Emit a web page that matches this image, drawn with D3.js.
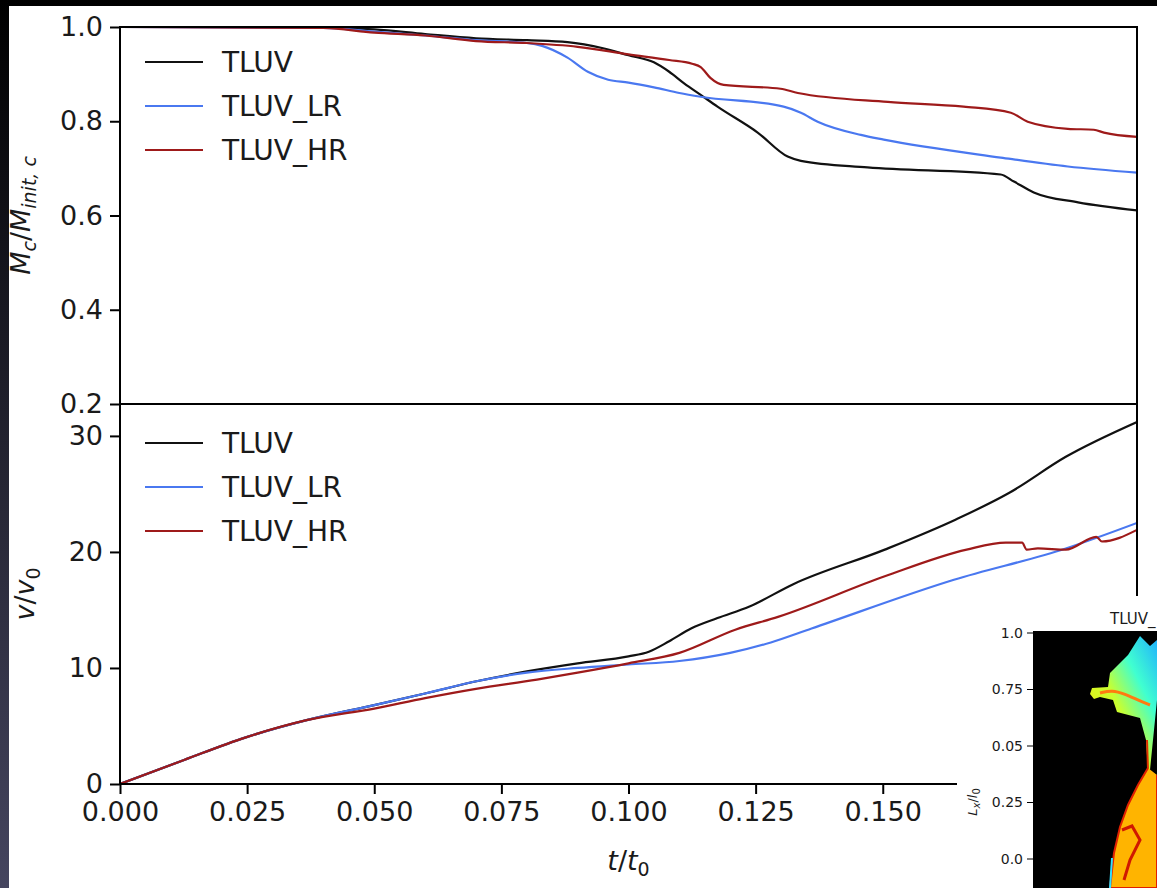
<!DOCTYPE html>
<html>
<head>
<meta charset="utf-8">
<script src="https://cdn.jsdelivr.net/npm/d3@7"></script>
<style>
  body { margin: 0; background: #000; }
  svg { display: block; }
  text { font-family: "DejaVu Sans", sans-serif; fill: #1a1a1a; }
</style>
</head>
<body>
<div id="chart"></div>
<script>
// ---- data: [t/t0, value] ----
const seriesNames = ["TLUV", "TLUV_LR", "TLUV_HR"];
const seriesColors = ["#111111", "#4a78f0", "#9e1a1a"];

const massTLUV = [[0, 1], [0.035, 1], [0.04, 0.999], [0.05, 0.995], [0.06, 0.985], [0.07, 0.976], [0.08, 0.972],
  [0.088, 0.968], [0.095, 0.955], [0.1, 0.94], [0.105, 0.925], [0.108, 0.905], [0.111, 0.88], [0.1142, 0.856],
  [0.1175, 0.831], [0.1254, 0.776], [0.1313, 0.725], [0.1339, 0.716], [0.147, 0.702], [0.1732, 0.687],
  [0.1758, 0.672], [0.1797, 0.649], [0.1884, 0.628], [0.2, 0.611]];
const massLR = [[0, 1], [0.04, 0.998], [0.05, 0.99], [0.06, 0.982], [0.07, 0.972], [0.08, 0.966], [0.083, 0.96],
  [0.088, 0.935], [0.092, 0.905], [0.096, 0.888], [0.1, 0.882], [0.105, 0.872], [0.11, 0.86], [0.1142, 0.852],
  [0.1305, 0.831], [0.1339, 0.818], [0.1372, 0.799], [0.1457, 0.771], [0.1502, 0.761], [0.1732, 0.723],
  [0.1864, 0.704], [0.2, 0.691]];
const massHR = [[0, 1], [0.04, 0.998], [0.05, 0.988], [0.06, 0.982], [0.07, 0.97], [0.08, 0.966], [0.09, 0.958],
  [0.1, 0.942], [0.108, 0.93], [0.1125, 0.922], [0.1142, 0.915], [0.1161, 0.892], [0.1187, 0.877], [0.1299, 0.869],
  [0.1333, 0.86], [0.151, 0.841], [0.1659, 0.831], [0.1752, 0.818], [0.1785, 0.799], [0.1864, 0.784],
  [0.1915, 0.782], [0.1935, 0.776], [0.2, 0.767]];

const velTLUV = [[0, 0], [0.0126, 2.07], [0.0246, 4.0], [0.0367, 5.5], [0.05, 6.8], [0.06, 7.8], [0.0706, 8.9],
  [0.08, 9.7], [0.09, 10.4], [0.1, 11.0], [0.104, 11.4], [0.108, 12.3], [0.1123, 13.4], [0.1175, 14.3],
  [0.1238, 15.3], [0.1323, 17.2], [0.1504, 20.2], [0.1644, 22.8], [0.1749, 25.1], [0.186, 28.2], [0.2, 31.2]];
const velLR = [[0, 0], [0.0126, 2.07], [0.0246, 4.0], [0.0367, 5.5], [0.05, 6.8], [0.06, 7.8], [0.0706, 8.9],
  [0.08, 9.6], [0.09, 10.0], [0.1, 10.3], [0.11, 10.6], [0.12, 11.3], [0.128, 12.2], [0.136, 13.4],
  [0.164, 17.6], [0.186, 20.3], [0.2, 22.5]];
const velHR = [[0, 0], [0.0126, 2.07], [0.0246, 4.0], [0.0367, 5.5], [0.05, 6.5], [0.06, 7.4], [0.07, 8.2],
  [0.082, 9.0], [0.09, 9.6], [0.1, 10.4], [0.11, 11.3], [0.121, 13.3], [0.1294, 14.4], [0.1504, 17.9],
  [0.1665, 20.2], [0.1742, 20.8], [0.1774, 20.8], [0.1783, 20.2], [0.1805, 20.3], [0.186, 20.2],
  [0.192, 21.3], [0.1931, 20.9], [0.2, 21.9]];

// ticks past 0.150 sit under the pasted inset, so only the visible ones are listed
const xTicks = [0, 0.025, 0.05, 0.075, 0.1, 0.125, 0.15];
const massTicks = [0.2, 0.4, 0.6, 0.8, 1.0];
const velTicks = [0, 10, 20, 30];
const insetTicks = ["1.0", "0.75", "0.05", "0.25", "0.0"];

// ---- layout ----
const W = 1157, H = 888;
const left = 120, right = 1137;
const topY0 = 27, midY = 404, botY1 = 784;
const tickFont = "27px", legendFont = "28px";

const svg = d3.select("#chart").append("svg")
    .attr("width", W)
    .attr("height", H);

const defs = svg.append("defs");
const bg = defs.append("linearGradient").attr("id", "bg").attr("x1", 0).attr("y1", 0).attr("x2", 0).attr("y2", 1);
bg.append("stop").attr("offset", "0%").attr("stop-color", "#000");
bg.append("stop").attr("offset", "100%").attr("stop-color", "#45455f");

svg.append("rect").attr("width", W).attr("height", H).attr("fill", "url(#bg)");
svg.append("rect").attr("x", 9).attr("y", 6).attr("width", W - 9).attr("height", H - 6).attr("fill", "#fff");

defs.append("clipPath").attr("id", "clipTop").append("rect")
    .attr("x", left).attr("y", topY0).attr("width", right - left).attr("height", midY - topY0);
defs.append("clipPath").attr("id", "clipBot").append("rect")
    .attr("x", left).attr("y", midY).attr("width", right - left).attr("height", botY1 - midY);

const x = d3.scaleLinear().domain([0, 0.2]).range([left, right]);
const yMass = d3.scaleLinear().domain([0.2, 1.0]).range([midY, topY0]);
const yVel = d3.scaleLinear().domain([0, 32.75]).range([botY1, midY]);

function drawPanel(yScale, series, clipId, ticks, fmt, legendY) {
    const line = d3.line()
        .x(function (d) { return x(d[0]); })
        .y(function (d) { return yScale(d[1]); })
        .curve(d3.curveMonotoneX);

    svg.append("g").attr("clip-path", "url(#" + clipId + ")")
        .selectAll("path")
        .data(series)
        .enter()
        .append("path")
        .attr("d", line)
        .attr("fill", "none")
        .attr("stroke", function (d, i) { return seriesColors[i]; })
        .attr("stroke-width", 2.2)
        .attr("stroke-linejoin", "round");

    const ax = svg.append("g")
        .attr("transform", "translate(" + left + ",0)")
        .call(d3.axisLeft(yScale).tickValues(ticks).tickFormat(fmt).tickSize(10).tickSizeOuter(0).tickPadding(7));
    ax.select(".domain").remove();
    ax.selectAll("line").attr("stroke", "#000").attr("stroke-width", 2);
    ax.selectAll("text").style("font-size", tickFont).attr("fill", "#1a1a1a");

    const leg = svg.append("g");
    seriesNames.forEach(function (name, i) {
        const yy = legendY + i * 44;
        leg.append("line").attr("x1", 145).attr("x2", 203).attr("y1", yy).attr("y2", yy)
            .attr("stroke", seriesColors[i]).attr("stroke-width", 2.2);
        leg.append("text").attr("x", 222).attr("y", yy).attr("dy", "0.36em")
            .style("font-size", legendFont).text(name);
    });
}

drawPanel(yMass, [massTLUV, massLR, massHR], "clipTop", massTicks, d3.format(".1f"), 62);
drawPanel(yVel, [velTLUV, velLR, velHR], "clipBot", velTicks, d3.format("d"), 443);

// x axis on the bottom panel
const xa = svg.append("g")
    .attr("transform", "translate(0," + botY1 + ")")
    .call(d3.axisBottom(x).tickValues(xTicks).tickFormat(d3.format(".3f")).tickSize(10).tickSizeOuter(0).tickPadding(8));
xa.select(".domain").remove();
xa.selectAll("line").attr("stroke", "#000").attr("stroke-width", 2);
xa.selectAll("text").style("font-size", tickFont).attr("fill", "#1a1a1a");

// spines
[[topY0, midY], [midY, botY1]].forEach(function (p) {
    svg.append("rect").attr("x", left).attr("y", p[0]).attr("width", right - left).attr("height", p[1] - p[0])
        .attr("fill", "none").attr("stroke", "#000").attr("stroke-width", 2);
});

// axis labels
const ml = svg.append("text")
    .attr("transform", "translate(30," + ((topY0 + midY) / 2) + ") rotate(-90)")
    .attr("text-anchor", "middle")
    .style("font-size", "27px");
ml.append("tspan").style("font-style", "italic").text("M");
ml.append("tspan").style("font-style", "italic").style("font-size", "19px").attr("dy", 6).text("c");
ml.append("tspan").attr("dy", -6).text("/");
ml.append("tspan").style("font-style", "italic").text("M");
ml.append("tspan").style("font-style", "italic").style("font-size", "19px").attr("dy", 6).text("init, c");

const vl = svg.append("text")
    .attr("transform", "translate(34," + ((midY + botY1) / 2) + ") rotate(-90)")
    .attr("text-anchor", "middle")
    .style("font-size", "27px");
vl.append("tspan").style("font-style", "italic").text("v");
vl.append("tspan").text("/");
vl.append("tspan").style("font-style", "italic").text("v");
vl.append("tspan").style("font-size", "19px").attr("dy", 6).text("0");

const tl = svg.append("text")
    .attr("x", (left + right) / 2).attr("y", 870)
    .attr("text-anchor", "middle")
    .style("font-size", "27px");
tl.append("tspan").style("font-style", "italic").text("t");
tl.append("tspan").text("/");
tl.append("tspan").style("font-style", "italic").text("t");
tl.append("tspan").style("font-size", "19px").attr("dy", 6).text("0");

// ---- inset snapshot (pasted panel, bottom right) ----
const inset = svg.append("g");
inset.append("rect").attr("x", 957).attr("y", 596).attr("width", W - 957).attr("height", H - 596).attr("fill", "#fff");
inset.append("rect").attr("x", 1033).attr("y", 631).attr("width", W - 1033).attr("height", H - 631).attr("fill", "#000");
inset.append("text").attr("x", 1110).attr("y", 624).style("font-size", "15px").text("TLUV_");

const yIn = d3.scalePoint().domain(insetTicks).range([633, 859]);
insetTicks.forEach(function (tk) {
    inset.append("line").attr("x1", 1027).attr("x2", 1033).attr("y1", yIn(tk)).attr("y2", yIn(tk))
        .attr("stroke", "#000").attr("stroke-width", 1);
    inset.append("text").attr("x", 1023).attr("y", yIn(tk)).attr("dy", "0.35em")
        .attr("text-anchor", "end").style("font-size", "14px").text(tk);
});
const il = inset.append("text")
    .attr("transform", "translate(977,802) rotate(-90)")
    .attr("text-anchor", "middle").style("font-size", "13px");
il.append("tspan").style("font-style", "italic").text("L");
il.append("tspan").style("font-style", "italic").style("font-size", "10px").attr("dy", 3).text("x");
il.append("tspan").attr("dy", -3).text("/");
il.append("tspan").style("font-style", "italic").text("l");
il.append("tspan").style("font-size", "10px").attr("dy", 3).text("0");

const pg = defs.append("linearGradient").attr("id", "plumeTop").attr("x1", 1).attr("y1", 0).attr("x2", 0).attr("y2", 1);
pg.append("stop").attr("offset", "0%").attr("stop-color", "#20b0ff");
pg.append("stop").attr("offset", "30%").attr("stop-color", "#40ffd0");
pg.append("stop").attr("offset", "55%").attr("stop-color", "#c8ff30");
pg.append("stop").attr("offset", "100%").attr("stop-color", "#ffe000");

const plumeTop = [[1140, 636], [1128, 655], [1110, 673], [1108, 687], [1092, 688], [1090, 694], [1094, 699],
  [1100, 697], [1113, 700], [1117, 712], [1140, 718], [1146, 740], [1148, 770], [1150, 770], [1157, 700],
  [1157, 640], [1150, 646]];
inset.append("path").attr("d", d3.line()(plumeTop)).attr("fill", "url(#plumeTop)");
inset.append("path").attr("d", d3.line().curve(d3.curveBasis)([[1100, 693], [1112, 690], [1125, 694], [1138, 700], [1150, 705]]))
    .attr("fill", "none").attr("stroke", "#ff7a10").attr("stroke-width", 3);
inset.append("path").attr("d", d3.line()([[1147, 740], [1148, 770]]))
    .attr("stroke", "#e03000").attr("stroke-width", 2);

const plumeBot = [[1148, 768], [1138, 785], [1128, 805], [1120, 827], [1114, 853], [1110, 888], [1157, 888], [1157, 775]];
inset.append("path").attr("d", d3.line()(plumeBot)).attr("fill", "#ffb400").attr("stroke", "#e02000").attr("stroke-width", 2);
inset.append("path").attr("d", d3.line()([[1122, 830], [1132, 826], [1140, 840], [1130, 860], [1124, 880]]))
    .attr("fill", "none").attr("stroke", "#d01800").attr("stroke-width", 3);
inset.append("path").attr("d", d3.line()([[1112, 858], [1110, 888]]))
    .attr("stroke", "#30e0ff").attr("stroke-width", 2);
</script>
</body>
</html>
